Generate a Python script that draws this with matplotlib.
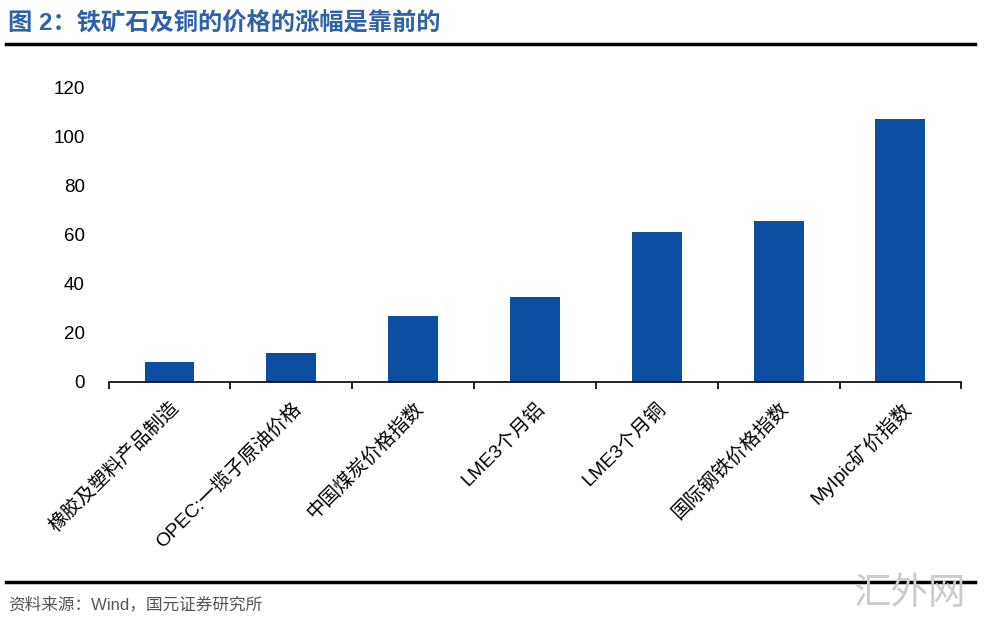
import matplotlib.pyplot as plt
from matplotlib.lines import Line2D

plt.rcParams['font.family'] = ['Liberation Sans', 'Noto Sans CJK SC', 'DejaVu Sans']

# -----------------------------
# Data
# -----------------------------
categories = [
    "橡胶及塑料产品制造",
    "OPEC:一揽子原油价格",
    "中国煤炭价格指数",
    "LME3个月铝",
    "LME3个月铜",
    "国际钢铁价格指数",
    "MyIpic矿价指数",
]
values = [8.1, 11.8, 27.0, 34.6, 61.2, 65.5, 107.0]
y_ticks = [0, 20, 40, 60, 80, 100, 120]

bar_color = "#0b4ea2"
title_color = "#2f63a8"

# -----------------------------
# Figure
# -----------------------------
fig = plt.figure(figsize=(9.87, 6.22), dpi=100)
ax = fig.add_axes([0.110, 0.386, 0.864, 0.474])

x = range(len(categories))
ax.bar(x, values, width=0.41, color=bar_color, zorder=2)

ax.set_xlim(-0.5, len(categories) - 0.5)
ax.set_ylim(0, 120)
ax.set_yticks(y_ticks)
ax.tick_params(axis="y", length=0, labelsize=13.5, pad=17)

# category boundaries as ticks pointing down
ax.set_xticks([i - 0.5 for i in range(len(categories) + 1)], minor=False)
ax.set_xticklabels([])
ax.tick_params(axis="x", which="major", direction="out", length=5, width=1.2)
ax.set_xticks(list(x), minor=True)
ax.set_xticklabels(categories, minor=True, rotation=45, ha="right",
                   rotation_mode="anchor", fontsize=14)
ax.tick_params(axis="x", which="minor", length=0, pad=12)

for side in ["top", "right", "left"]:
    ax.spines[side].set_visible(False)
ax.spines["bottom"].set_linewidth(1.2)

# -----------------------------
# Title, rules and source
# -----------------------------
fig.text(0.008, 0.962, "图 2：铁矿石及铜的价格的涨幅是靠前的", fontsize=17.5,
         fontweight="bold", color=title_color, va="center")
fig.add_artist(Line2D([0.006, 0.988], [0.929, 0.929], color="black", lw=2.5))
fig.add_artist(Line2D([0.006, 0.988], [0.064, 0.064], color="black", lw=2.5))
fig.text(0.008, 0.028, "资料来源：Wind，国元证券研究所", fontsize=12,
         color="#555555", va="center")
fig.text(0.865, 0.045, "汇外网", fontsize=27, color="#cccccc", va="center")

fig.savefig("out.png", dpi=100)
